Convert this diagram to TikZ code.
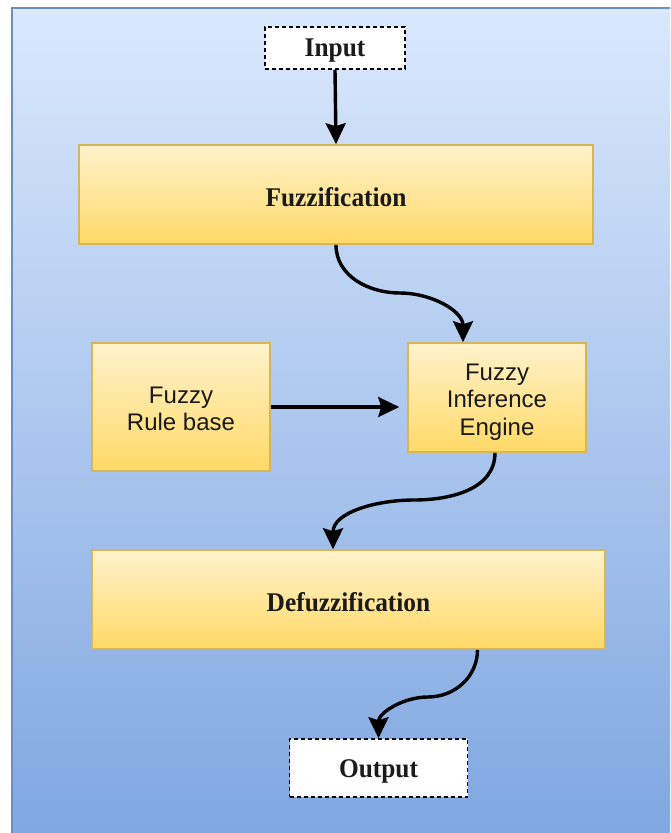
\documentclass[tikz,border=0pt]{standalone}
\usepackage{fontspec}
\setmainfont{Liberation Serif}
\newfontfamily\boxsans{Liberation Sans}
\usetikzlibrary{arrows.meta,calc}

\definecolor{bgtop}{HTML}{DAE8FC}
\definecolor{bgbottom}{HTML}{7EA6E0}
\definecolor{bgline}{HTML}{6C8EBF}
\definecolor{ytop}{HTML}{FFF2CC}
\definecolor{ybottom}{HTML}{FFD966}
\definecolor{yline}{HTML}{D6B656}
\definecolor{ink}{HTML}{1A1A1A}

% bold serif caption, slightly condensed and set a little low in its box
\newcommand{\serifcap}[1]{\raisebox{-3pt}[\height][\depth]{\scalebox{0.94}[1]{#1}}}
% centred multi-line sans caption, also set a little low
\newcommand{\sansstack}[1]{\raisebox{-4.5pt}[\height][\depth]{\begin{tabular}{@{}c@{}}#1\end{tabular}}}

\tikzset{
  stagebox/.style={draw=yline, line width=1.6pt, top color=ytop, bottom color=ybottom,
    inner sep=0pt, text=ink},
  serifbold/.style={font=\fontsize{27}{31}\selectfont\bfseries},
  sanslabel/.style={font=\boxsans\fontsize{24}{27.5}\selectfont},
  iobox/.style={draw=black, dashed, dash pattern=on 4pt off 3pt, line width=1.5pt,
    fill=white, inner sep=0pt, text=ink},
  flow/.style={line width=3.4pt, -{Stealth[length=21pt,width=20pt,inset=3pt]}},
}

\begin{document}
\begin{tikzpicture}[x=1pt,y=-1pt]
  \useasboundingbox (0,0) rectangle (670,833);
  \clip (0,0) rectangle (670,833);

  % blue gradient panel behind the whole flow
  \shade[top color=bgtop, bottom color=bgbottom] (12,8) rectangle (690,850);
  \draw[bgline, line width=1.2pt] (12,850) -- (12,8) -- (690,8);

  % stages
  \node[iobox, serifbold, minimum width=140pt, minimum height=42pt] (inp) at (335,48) {\serifcap{Input}};
  \node[stagebox, serifbold, minimum width=514pt, minimum height=99pt] (fuzz) at (336,194.5) {\serifcap{Fuzzification}};
  \node[stagebox, sanslabel, minimum width=178pt, minimum height=128pt] (rules) at (181,407) {\sansstack{Fuzzy\\Rule base}};
  \node[stagebox, sanslabel, minimum width=178pt, minimum height=109pt] (fie) at (497,397.5) {\sansstack{Fuzzy\\Inference\\Engine}};
  \node[stagebox, serifbold, minimum width=513pt, minimum height=99pt] (defuzz) at (348.5,599.5) {\serifcap{Defuzzification}};
  \node[iobox, serifbold, minimum width=178pt, minimum height=58pt] (out) at (378.5,768) {\serifcap{Output}};

  % bends of the curved connectors
  \coordinate (bendA) at (400,293);
  \coordinate (bendB) at (414,500);
  \coordinate (bendC) at (428,697);

  % connectors
  \draw[flow] (inp.south) -- (fuzz.north);
  \draw[flow] (fuzz.south) to[out=-90,in=180] (bendA) to[out=0,in=90] ([xshift=-34pt]fie.north);
  \draw[flow, shorten >=8pt] (rules.east) -- (rules.east -| fie.west);
  \draw[flow] ([xshift=-2pt]fie.south) to[out=-90,in=0] (bendB) to[out=180,in=90] ([xshift=-15.5pt]defuzz.north);
  \draw[flow] ([xshift=129pt]defuzz.south) to[out=-90,in=0] (bendC) to[out=180,in=90] (out.north);
\end{tikzpicture}
\end{document}
